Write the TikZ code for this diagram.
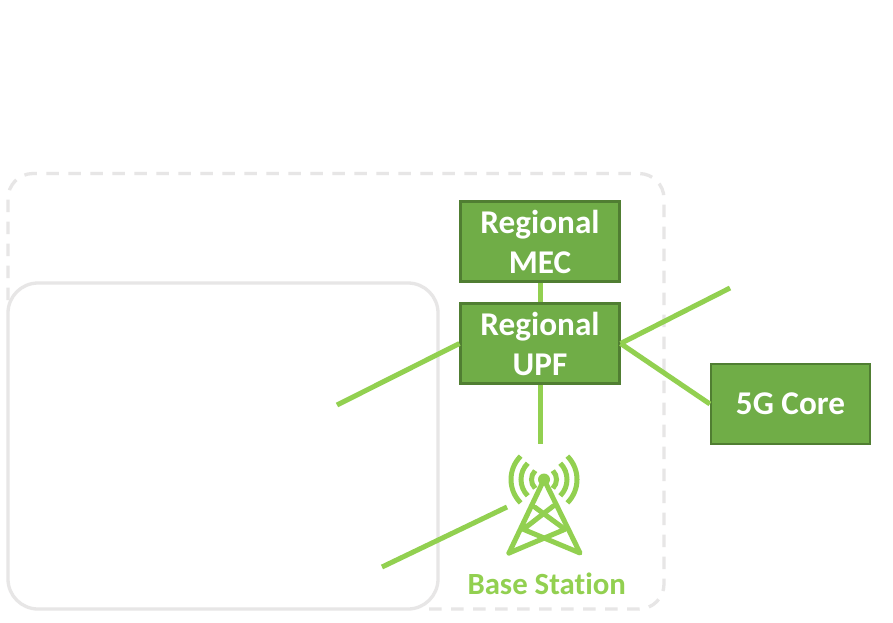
\documentclass[tikz,border=0pt]{standalone}
\usepackage{fontspec}
\setmainfont[Ligatures=NoCommon]{Carlito}
\definecolor{boxfill}{HTML}{70AD47}
\definecolor{boxedge}{HTML}{507E32}
\definecolor{linkgreen}{HTML}{92D050}
\definecolor{framegray}{HTML}{E7E6E6}
\tikzset{
  greenbox/.style={draw=boxedge,line width=2.2pt,fill=boxfill,text=white,align=center,
    minimum width=159pt,minimum height=80pt,inner sep=0pt,
    font=\fontsize{33.2pt}{40pt}\selectfont\bfseries},
  link/.style={draw=linkgreen,line width=5pt},
  towerline/.style={draw=linkgreen,line width=5pt,line cap=round,line join=round},
  towerarc/.style={draw=linkgreen,line width=5pt},
  dashframe/.style={draw=framegray,line width=3.3pt,dash pattern=on 12.5pt off 9.5pt,rounded corners=25pt},
  solidframe/.style={draw=framegray,line width=3.3pt,fill=white,rounded corners=30pt},
  baselabel/.style={text=linkgreen,inner sep=0pt,font=\fontsize{30.8pt}{34pt}\selectfont\bfseries}
}
\begin{document}
\begin{tikzpicture}[x=1pt,y=-1pt]
\useasboundingbox[fill=white] (0,0) rectangle (893,622);
\draw[dashframe] (8,300) -- (8,173.5) -- (664,173.5) -- (664,609) -- (420,609);
\draw[solidframe] (8,283) rectangle (438,609);
\node[greenbox] (mec) at (540,241.5) {Regional\\MEC};
\node[greenbox] (upf) at (540,343.5) {Regional\\UPF};
\node[greenbox] (core) at (790.5,404) {\raisebox{-3pt}{5G Core}};
\node[baselabel] (base) at (546.7,584) {Base Station};
\coordinate (upfwestend) at (337,405);
\coordinate (upfeastend) at (730,288);
\coordinate (towertop) at (540,444);
\coordinate (towerlink) at (507,507);
\coordinate (towerlinkend) at (382,567);
\coordinate (apex) at (544,479.5);
\coordinate (legl) at (509,553);
\coordinate (legr) at (580,553);
\coordinate (crossl) at (523.3,529.3);
\coordinate (crossr) at (565,529.3);
\coordinate (upperl) at (535,507.3);
\coordinate (upperr) at (553.3,506);
\draw[link] (mec.south) -- (upf.north);
\draw[link] (upf.south) -- (towertop);
\draw[link] (upf.west) -- (upfwestend);
\draw[link] (upf.east) -- (upfeastend);
\draw[link] (upf.east) -- (core.west);
\draw[link] (towerlink) -- (towerlinkend);
\draw[towerline] (legl) -- (apex) -- (legr) -- (crossl) -- (upperr);
\draw[towerline] (legl) -- (crossr) -- (upperl);
\fill[linkgreen] (apex) circle (6pt);
\foreach \r in {12.5,23,33}{
  \draw[towerarc] (apex) ++(45:\r) arc[start angle=45,end angle=-45,radius=\r];
  \draw[towerarc] (apex) ++(135:\r) arc[start angle=135,end angle=225,radius=\r];
}
\end{tikzpicture}
\end{document}
